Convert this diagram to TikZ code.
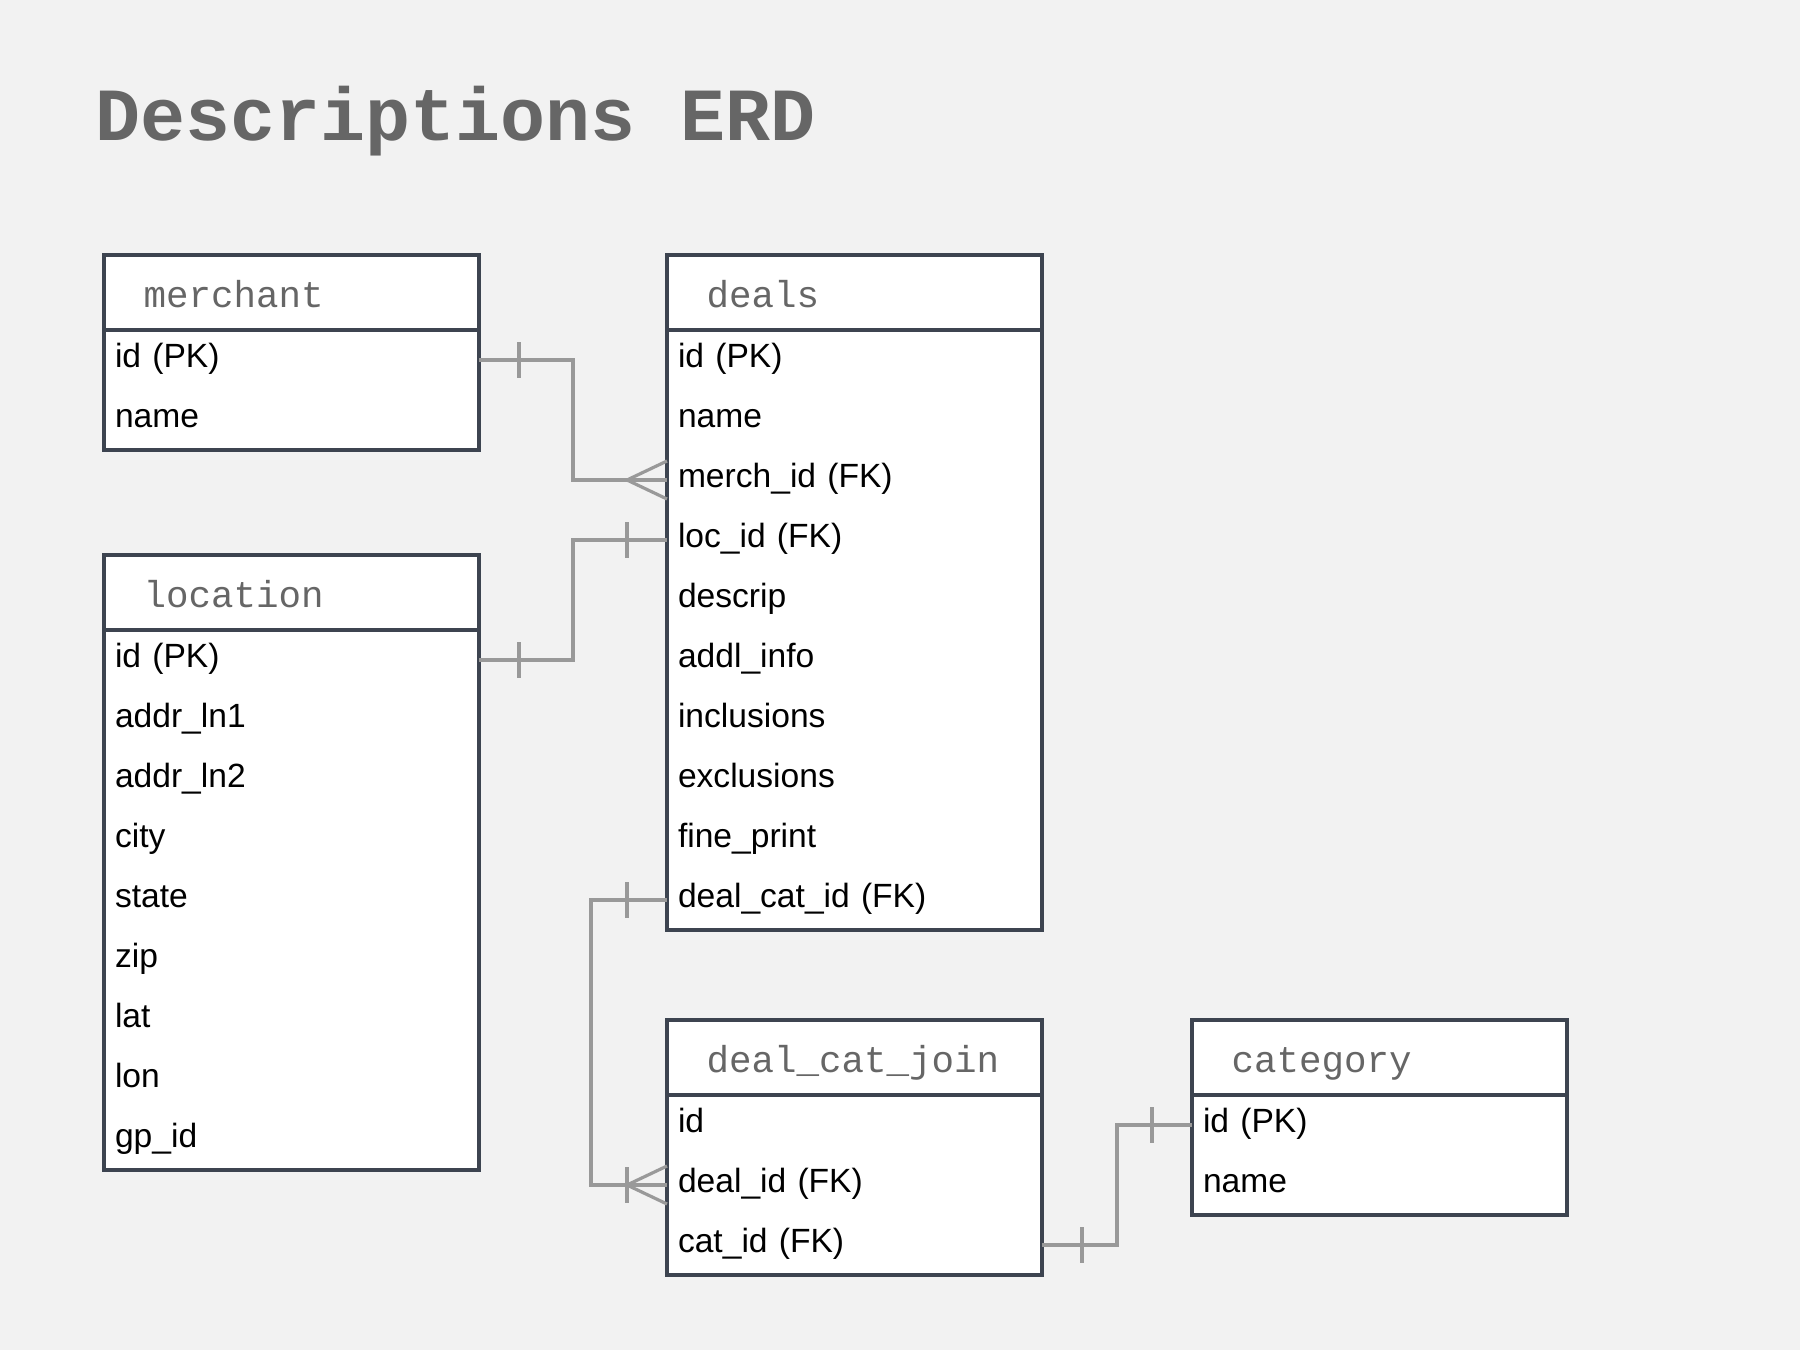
\documentclass[tikz,border=0pt]{standalone}
\usepackage{fontspec}
\setmainfont{Liberation Sans}
\newfontfamily\erdmono{Liberation Mono}
\usetikzlibrary{calc}
\definecolor{bgcol}{HTML}{F2F2F2}
\definecolor{framecol}{HTML}{3D4450}
\definecolor{linkcol}{HTML}{999999}
\definecolor{hdrcol}{HTML}{666666}
\tikzset{
  hdr/.style={draw=framecol, line width=1.75pt, fill=white, outer sep=0pt,
    minimum width=187.5pt, minimum height=37.5pt, inner ysep=0pt,
    inner xsep=19.75pt, text width=148pt, align=left,
    font=\erdmono\fontsize{18.75pt}{22pt}\selectfont, text=hdrcol,
    text height=14.6pt, text depth=0pt},
  tabframe/.style={draw=framecol, line width=1.75pt, fill=white},
  rowbox/.style={outer sep=0pt, minimum width=187.5pt, minimum height=30pt,
    inner ysep=0pt, inner xsep=5.5pt, text width=176.5pt, align=left,
    font=\fontsize{16.8pt}{20pt}\selectfont, text=black,
    text height=12.1pt, text depth=4.7pt},
  link/.style={draw=linkcol, line width=1.6pt},
  titlestyle/.style={anchor=base west, inner sep=0pt, text=hdrcol,
    font=\erdmono\bfseries\fontsize{37.5pt}{40pt}\selectfont}
}
\newcommand\erdtab[6]{%
  \node[hdr, anchor=north west] (#1) at (#2,#3) {#4};
  \draw[tabframe] (#1.south west) rectangle ++(375,#5*60);
  \foreach \r [count=\i] in {#6} {
    \node[rowbox, anchor=north west] (#1-\i) at ($(#1.south west)+(0,{(\i-1)*60})$) {\r};
  }
}
\begin{document}
\begin{tikzpicture}[x=0.5pt, y=-0.5pt]
\fill[bgcol] (0,0) rectangle (1800,1350);
\useasboundingbox (0,0) rectangle (1800,1350);

\node[titlestyle] (title) at (95,140) {Descriptions ERD};

\erdtab{merchant}{104}{255}{merchant}{2}{id (PK), name}
\erdtab{deals}{667}{255}{deals}{10}{id (PK), name, merch\_id (FK), loc\_id (FK), descrip, addl\_info, inclusions, exclusions, fine\_print, deal\_cat\_id (FK)}
\erdtab{location}{104}{555}{location}{9}{id (PK), addr\_ln1, addr\_ln2, city, state, zip, lat, lon, gp\_id}
\erdtab{join}{667}{1020}{deal\_cat\_join}{3}{id, deal\_id (FK), cat\_id (FK)}
\erdtab{category}{1192}{1020}{category}{2}{id (PK), name}

% merchant -> deals (one to many)
\draw[link] (merchant-1.east) -- ++(94,0) |- (deals-3.west);
\draw[link] ([xshift=20pt]merchant-1.east) ++(0,-18) -- ++(0,36);
\draw[link] ([yshift=9.5pt]deals-3.west) -- ([xshift=-20pt]deals-3.west) -- ([yshift=-9.5pt]deals-3.west);

% location -> deals (one to one)
\draw[link] (location-1.east) -- ++(94,0) |- (deals-4.west);
\draw[link] ([xshift=20pt]location-1.east) ++(0,-18) -- ++(0,36);
\draw[link] ([xshift=-20pt]deals-4.west) ++(0,-18) -- ++(0,36);

% deals -> deal_cat_join (one to one-or-many)
\draw[link] (deals-10.west) -- ++(-76,0) |- (join-2.west);
\draw[link] ([xshift=-20pt]deals-10.west) ++(0,-18) -- ++(0,36);
\draw[link] ([xshift=-20pt]join-2.west) ++(0,-18) -- ++(0,36);
\draw[link] ([yshift=9.5pt]join-2.west) -- ([xshift=-20pt]join-2.west) -- ([yshift=-9.5pt]join-2.west);

% deal_cat_join -> category (one to one)
\draw[link] (join-3.east) -- ++(75,0) |- (category-1.west);
\draw[link] ([xshift=20pt]join-3.east) ++(0,-18) -- ++(0,36);
\draw[link] ([xshift=-20pt]category-1.west) ++(0,-18) -- ++(0,36);
\end{tikzpicture}
\end{document}
